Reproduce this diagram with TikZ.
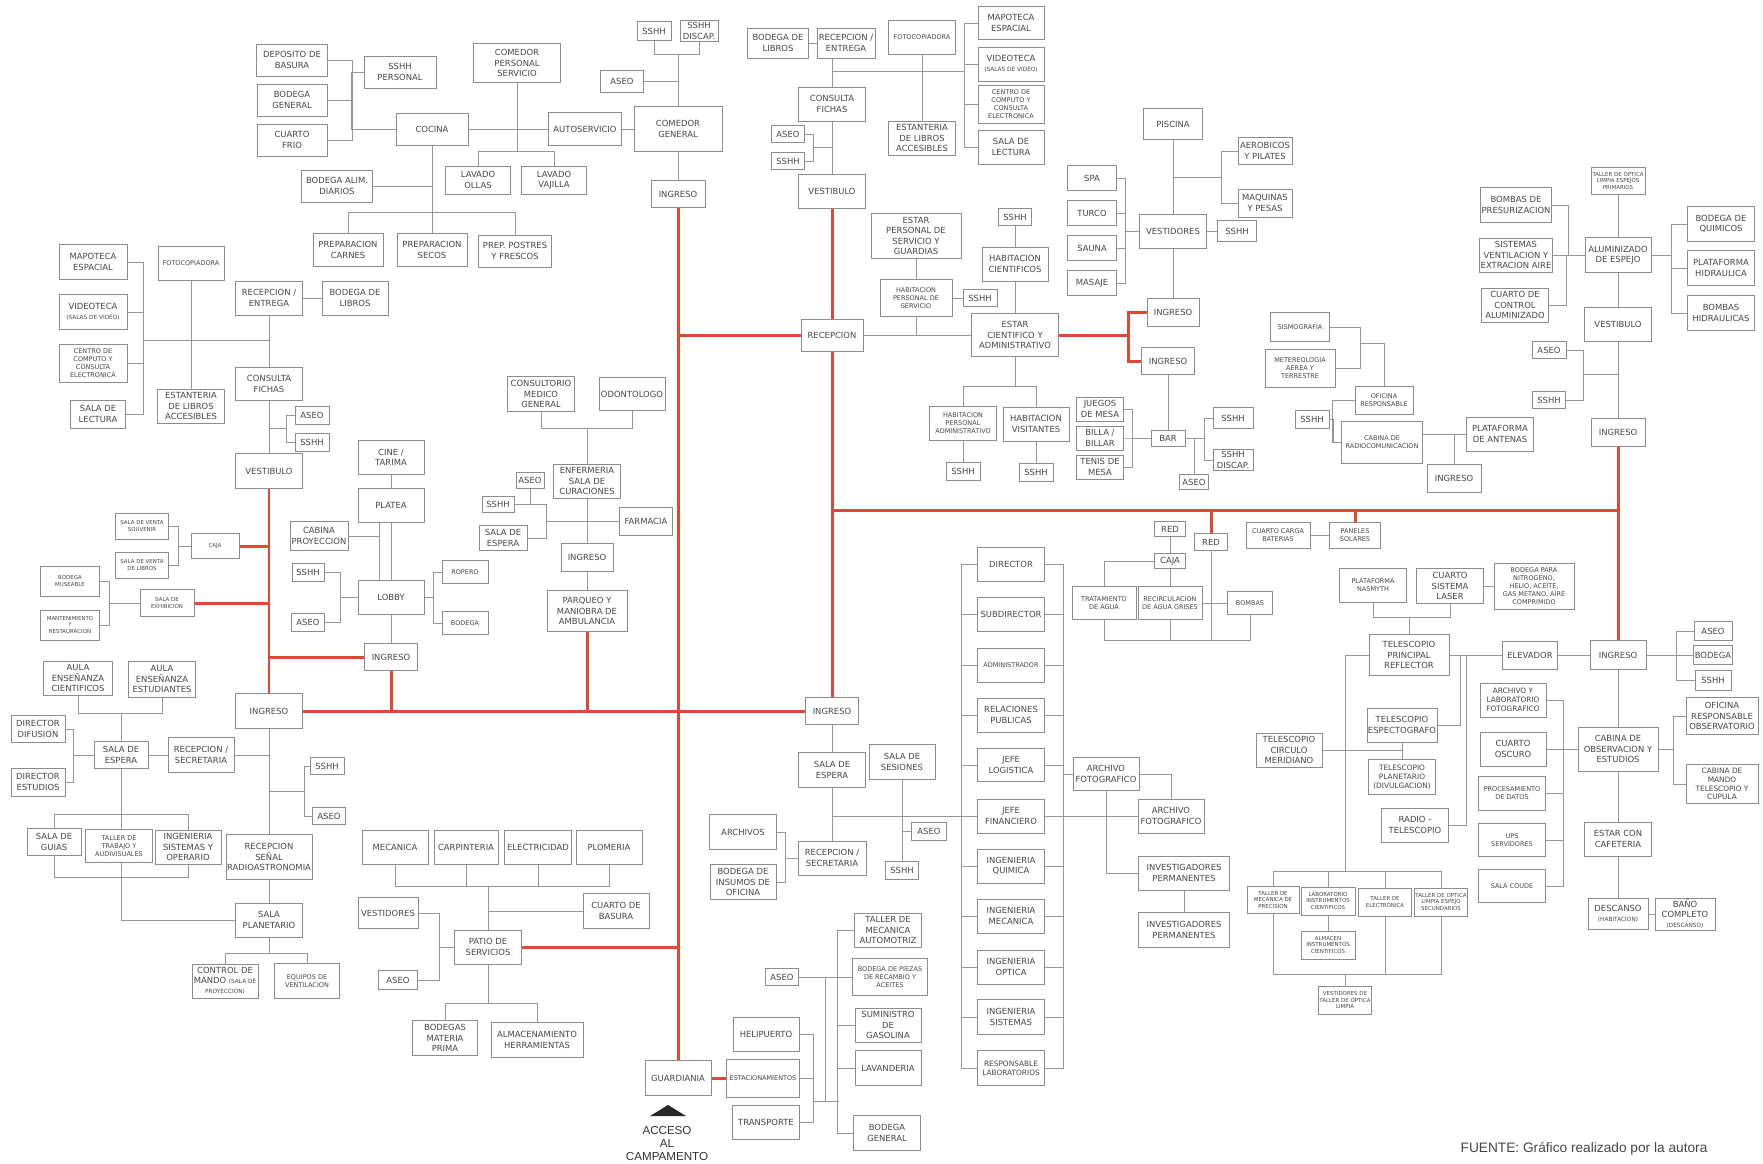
\documentclass[tikz,border=0pt]{standalone}
\usepackage{fontspec}
\setmainfont{DejaVu Sans}
\newfontfamily\arialfont{Liberation Sans}
\pgfdeclarelayer{background}
\pgfsetlayers{background,main}
\newlength{\pxu}
\setlength{\pxu}{0.02cm}
\definecolor{boxline}{RGB}{140,140,140}
\definecolor{linegray}{RGB}{150,150,150}
\definecolor{txt}{RGB}{70,70,70}
\definecolor{routered}{RGB}{222,72,52}
\newcommand{\mainsize}{\fontsize{4.8}{5.8}\selectfont}
\newcommand{\midsize}{\fontsize{4.2}{5}\selectfont}
\newcommand{\smallsize}{\fontsize{3.7}{4.5}\selectfont}
\newcommand{\tinysize}{\fontsize{3.1}{3.8}\selectfont}
\newcommand{\subtxt}[1]{{\fontsize{3.3}{4}\selectfont #1}}
\tikzstyle{room} = [
    rectangle,
    draw=boxline,
    line width=0.45pt,
    fill=white,
    inner sep=0.6pt,
    align=center,
    text=txt,
    font=\mainsize
]
\tikzstyle{roommid} = [room, font=\midsize]
\tikzstyle{roomsm} = [room, font=\smallsize]
\tikzstyle{roomtiny} = [room, font=\tinysize]
\tikzstyle{link} = [draw=linegray, line width=0.45pt]
\tikzstyle{route} = [draw=routered, line width=1.7pt]
\tikzset{wh/.style 2 args={minimum width=#1*\pxu, minimum height=#2*\pxu}}

\begin{document}
\begin{tikzpicture}[x=0.02cm, y=-0.02cm]
\useasboundingbox (0,0) rectangle (1763,1163);

\node (depbasura) [room, wh={71}{32}] at (292,60) {DEPOSITO DE\\BASURA};
\node (sshhpers) [room, wh={72}{32}] at (400,72) {SSHH\\PERSONAL};
\node (bodgen) [room, wh={70}{32}] at (292,100) {BODEGA\\GENERAL};
\node (frio) [room, wh={70}{32}] at (292,140) {CUARTO\\FRIO};
\node (cocina) [room, wh={72}{32}] at (432,129) {COCINA};
\node (bodalim) [room, wh={71}{32}] at (337,186) {BODEGA ALIM.\\DIARIOS};
\node (prepcarnes) [room, wh={70}{33}] at (348,250) {PREPARACION\\CARNES};
\node (prepsecos) [room, wh={70}{33}] at (432,250) {PREPARACION\\SECOS};
\node (prepostres) [room, wh={73}{32}] at (515,251) {PREP. POSTRES\\Y FRESCOS};
\node (compers) [room, wh={87}{39}] at (517,63) {COMEDOR\\PERSONAL\\SERVICIO};
\node (lavollas) [room, wh={65}{28}] at (478,180) {LAVADO\\OLLAS};
\node (lavvajilla) [room, wh={65}{28}] at (554,180) {LAVADO\\VAJILLA};
\node (autoserv) [room, wh={73}{33}] at (585,129) {AUTOSERVICIO};
\node (comgen) [room, wh={88}{45}] at (678,129) {COMEDOR\\GENERAL};
\node (aseocom) [room, wh={43}{22}] at (622,81) {ASEO};
\node (sshhcom) [room, wh={34}{19}] at (654,31) {SSHH};
\node (discom) [room, wh={38}{21}] at (699,31) {SSHH\\DISCAP.};
\node (ingcom) [room, wh={54}{27}] at (678,194) {INGRESO};

\node (mapoL) [room, wh={68}{35}] at (93,262) {MAPOTECA\\ESPACIAL};
\node (videoL) [room, wh={68}{35}] at (93,312) {VIDEOTECA\\\subtxt{(SALAS DE VIDEO)}};
\node (centroL) [roomsm, wh={68}{38}] at (93,363) {CENTRO DE\\COMPUTO Y\\CONSULTA\\ELECTRONICA};
\node (lecturaL) [room, wh={55}{28}] at (98,414) {SALA DE\\LECTURA};
\node (fotoL) [roomsm, wh={66}{34}] at (191,263) {FOTOCOPIADORA};
\node (estantL) [room, wh={67}{34}] at (191,406) {ESTANTERIA\\DE LIBROS\\ACCESIBLES};
\node (recentL) [room, wh={67}{34}] at (269,298) {RECEPCION /\\ENTREGA};
\node (bodlibL) [room, wh={66}{34}] at (355,298) {BODEGA DE\\LIBROS};
\node (consultaL) [room, wh={67}{33}] at (269,384) {CONSULTA\\FICHAS};
\node (aseoL) [room, wh={34}{18}] at (312,415) {ASEO};
\node (sshhL) [room, wh={34}{18}] at (312,442) {SSHH};
\node (vestL) [room, wh={67}{35}] at (269,471) {VESTIBULO};
\coordinate (libL) at (269,340);
\coordinate (sanL) at (269,428);

\node (cajaL) [roomtiny, wh={48}{25}] at (215,546) {CAJA};
\node (souvenir) [roomtiny, wh={53}{26}] at (142,526) {SALA DE VENTA\\SOUVENIR};
\node (ventalib) [roomtiny, wh={53}{26}] at (142,565) {SALA DE VENTA\\DE LIBROS};
\node (bodmus) [roomtiny, wh={59}{30}] at (70,581) {BODEGA\\MUSEABLE};
\node (manten) [roomtiny, wh={59}{30}] at (70,625) {MANTENIMIENTO\\Y\\RESTAURACION};
\node (exhib) [roomtiny, wh={54}{27}] at (167,603) {SALA DE\\EXHIBICION};

\node (cine) [room, wh={66}{34}] at (391,457) {CINE /\\TARIMA};
\node (platea) [room, wh={66}{34}] at (391,505) {PLATEA};
\node (cabproy) [room, wh={58}{29}] at (319,536) {CABINA\\PROYECCION};
\node (sshhcine) [room, wh={32}{18}] at (308,572) {SSHH};
\node (aseocine) [room, wh={33}{18}] at (308,622) {ASEO};
\node (lobby) [room, wh={66}{34}] at (391,597) {LOBBY};
\node (ingcine) [room, wh={53}{27}] at (391,657) {INGRESO};
\node (ropero) [roomsm, wh={46}{23}] at (465,572) {ROPERO};
\node (bodcine) [roomsm, wh={46}{23}] at (465,623) {BODEGA};

\node (ingL) [room, wh={67}{35}] at (269,711) {INGRESO};
\node (aulacien) [room, wh={69}{34}] at (78,678) {AULA\\ENSEÑANZA\\CIENTIFICOS};
\node (aulaest) [room, wh={67}{36}] at (162,679) {AULA\\ENSEÑANZA\\ESTUDIANTES};
\node (dirdif) [room, wh={54}{27}] at (38,729) {DIRECTOR\\DIFUSION};
\node (direst) [room, wh={54}{28}] at (38,782) {DIRECTOR\\ESTUDIOS};
\node (esperaL) [room, wh={54}{27}] at (121,755) {SALA DE\\ESPERA};
\node (recsecL) [room, wh={66}{35}] at (201,755) {RECEPCION /\\SECRETARIA};
\node (sshhof) [room, wh={34}{17}] at (327,766) {SSHH};
\node (aseoof) [room, wh={33}{17}] at (329,816) {ASEO};
\node (guias) [room, wh={54}{27}] at (54,842) {SALA DE\\GUIAS};
\node (tallerav) [roomsm, wh={67}{33}] at (119,846) {TALLER DE\\TRABAJO Y\\AUDIVISUALES};
\node (ingsist) [room, wh={66}{34}] at (188,847) {INGENIERIA\\SISTEMAS Y\\OPERARIO};
\node (senal) [room, wh={86}{45}] at (269,857) {RECEPCION\\SEÑAL\\RADIOASTRONOMIA};
\node (planet) [room, wh={67}{34}] at (269,920) {SALA\\PLANETARIO};
\node (ctrlmando) [room, wh={66}{34}] at (225,981) {CONTROL DE\\MANDO \subtxt{(SALA DE}\\\subtxt{PROYECCION)}};
\node (equipos) [roomsm, wh={65}{35}] at (307,981) {EQUIPOS DE\\VENTILACION};
\coordinate (ofL) at (269,791);

\node (consmed) [room, wh={67}{35}] at (541,394) {CONSULTORIO\\MEDICO\\GENERAL};
\node (odonto) [room, wh={66}{33}] at (632,394) {ODONTOLOGO};
\node (enferm) [room, wh={67}{34}] at (587,481) {ENFERMERIA\\SALA DE\\CURACIONES};
\node (aseomed) [room, wh={28}{16}] at (530,480) {ASEO};
\node (sshhmed) [room, wh={32}{16}] at (498,504) {SSHH};
\node (esperamed) [room, wh={48}{25}] at (503,538) {SALA DE\\ESPERA};
\node (farmacia) [room, wh={53}{28}] at (646,521) {FARMACIA};
\node (ingmed) [room, wh={52}{28}] at (587,557) {INGRESO};
\node (parqueo) [room, wh={80}{41}] at (587,611) {PARQUEO Y\\MANIOBRA DE\\AMBULANCIA};
\coordinate (medJ) at (546,521);

\node (mecanica) [room, wh={66}{34}] at (395,847) {MECANICA};
\node (carpint) [room, wh={64}{34}] at (466,847) {CARPINTERIA};
\node (electr) [room, wh={67}{34}] at (538,847) {ELECTRICIDAD};
\node (plomeria) [room, wh={66}{34}] at (609,847) {PLOMERIA};
\node (basura) [room, wh={66}{35}] at (616,911) {CUARTO DE\\BASURA};
\node (vestserv) [room, wh={60}{31}] at (388,913) {VESTIDORES};
\node (aseoserv) [room, wh={39}{19}] at (398,980) {ASEO};
\node (patio) [room, wh={67}{34}] at (488,947) {PATIO DE\\SERVICIOS};
\node (bodmat) [room, wh={65}{35}] at (445,1038) {BODEGAS\\MATERIA\\PRIMA};
\node (almacen) [room, wh={92}{35}] at (537,1040) {ALMACENAMIENTO\\HERRAMIENTAS};
\node (guard) [room, wh={66}{35}] at (678,1078) {GUARDIANIA};
\fill[black!85] (650,1116) -- (668,1105) -- (686,1116) -- cycle;
\node (acceso) [align=center, text=black!80, font=\arialfont\fontsize{6.6}{7.4}\selectfont] at (667,1143) {ACCESO\\AL\\CAMPAMENTO};

\node (bodlibR) [room, wh={61}{30}] at (778,43) {BODEGA DE\\LIBROS};
\node (recentR) [room, wh={58}{30}] at (846,43) {RECEPCION /\\ENTREGA};
\node (consultaR) [room, wh={67}{34}] at (832,104) {CONSULTA\\FICHAS};
\node (aseoR) [room, wh={33}{17}] at (788,134) {ASEO};
\node (sshhR) [room, wh={33}{17}] at (788,161) {SSHH};
\node (vestR) [room, wh={67}{34}] at (832,191) {VESTIBULO};
\node (fotoR) [roomsm, wh={67}{34}] at (922,37) {FOTOCOPIADORA};
\node (mapoR) [room, wh={66}{33}] at (1011,23) {MAPOTECA\\ESPACIAL};
\node (videoR) [room, wh={66}{34}] at (1011,64) {VIDEOTECA\\\subtxt{(SALAS DE VIDEO)}};
\node (centroR) [roomsm, wh={66}{38}] at (1011,104) {CENTRO DE\\COMPUTO Y\\CONSULTA\\ELECTRONICA};
\node (lecturaR) [room, wh={66}{34}] at (1011,147) {SALA DE\\LECTURA};
\node (estantR) [room, wh={67}{34}] at (922,138) {ESTANTERIA\\DE LIBROS\\ACCESIBLES};
\node (recep) [room, wh={62}{32}] at (832,335) {RECEPCION};
\coordinate (libR) at (832,71);
\coordinate (sanR) at (832,147);
\coordinate (hubE) at (832,510);

\node (estarpers) [room, wh={90}{45}] at (916,236) {ESTAR\\PERSONAL DE\\SERVICIO Y\\GUARDIAS};
\node (habpers) [roomsm, wh={72}{37}] at (916,298) {HABITACION\\PERSONAL DE\\SERVICIO};
\node (sshhhp) [room, wh={34}{17}] at (980,298) {SSHH};
\node (sshhhc) [room, wh={33}{17}] at (1015,217) {SSHH};
\node (habcien) [room, wh={66}{34}] at (1015,264) {HABITACION\\CIENTIFICOS};
\node (estarcien) [room, wh={87}{43}] at (1015,335) {ESTAR\\CIENTIFICO Y\\ADMINISTRATIVO};
\node (habadmin) [roomsm, wh={67}{34}] at (963,423) {HABITACION\\PERSONAL\\ADMINISTRATIVO};
\node (habvis) [room, wh={66}{34}] at (1036,424) {HABITACION\\VISITANTES};
\node (sshhha) [room, wh={34}{18}] at (963,471) {SSHH};
\node (sshhhv) [room, wh={34}{18}] at (1036,472) {SSHH};

\node (piscina) [room, wh={59}{31}] at (1173,124) {PISCINA};
\node (aerobicos) [room, wh={54}{27}] at (1265,151) {AEROBICOS\\Y PILATES};
\node (maquinas) [room, wh={54}{28}] at (1265,203) {MAQUINAS\\Y PESAS};
\node (spa) [room, wh={49}{25}] at (1092,178) {SPA};
\node (turco) [room, wh={49}{25}] at (1092,213) {TURCO};
\node (sauna) [room, wh={49}{25}] at (1092,248) {SAUNA};
\node (masaje) [room, wh={49}{25}] at (1092,283) {MASAJE};
\node (vestpool) [room, wh={67}{34}] at (1173,231) {VESTIDORES};
\node (sshhpool) [room, wh={39}{21}] at (1237,231) {SSHH};
\node (ingpool) [room, wh={52}{28}] at (1173,312) {INGRESO};
\node (ingbar) [room, wh={53}{27}] at (1168,361) {INGRESO};
\coordinate (poolJ) at (1173,177);

\node (juegos) [room, wh={47}{24}] at (1100,409) {JUEGOS\\DE MESA};
\node (billar) [room, wh={47}{24}] at (1100,438) {BILLA /\\BILLAR};
\node (tenis) [room, wh={47}{24}] at (1100,467) {TENIS DE\\MESA};
\node (bar) [room, wh={34}{16}] at (1168,438) {BAR};
\node (sshhbar) [room, wh={40}{21}] at (1233,418) {SSHH};
\node (disbar) [room, wh={40}{21}] at (1233,460) {SSHH\\DISCAP.};
\node (aseobar) [room, wh={29}{15}] at (1194,482) {ASEO};

\node (sismo) [roomsm, wh={59}{29}] at (1300,327) {SISMOGRAFIA};
\node (meteo) [roomsm, wh={70}{38}] at (1300,368) {METEREOLOGIA\\AEREA Y\\TERRESTRE};
\node (oficresp) [roomsm, wh={58}{28}] at (1384,400) {OFICINA\\RESPONSABLE};
\node (sshhrad) [room, wh={34}{18}] at (1312,419) {SSHH};
\node (cabrad) [roomsm, wh={81}{42}] at (1382,442) {CABINA DE\\RADIOCOMUNICACION};
\node (antenas) [room, wh={67}{34}] at (1500,434) {PLATAFORMA\\DE ANTENAS};
\node (ingrad) [room, wh={54}{28}] at (1454,478) {INGRESO};
\coordinate (sisJ) at (1360,343);

\node (tallerprim) [roomtiny, wh={54}{27}] at (1618,181) {TALLER DE OPTICA\\LIMPIA ESPEJOS\\PRIMARIOS};
\node (bombpres) [room, wh={67}{35}] at (1516,205) {BOMBAS DE\\PRESURIZACION};
\node (sistvent) [room, wh={68}{34}] at (1516,255) {SISTEMAS\\VENTILACION Y\\EXTRACION AIRE};
\node (ctrlalum) [room, wh={67}{34}] at (1515,305) {CUARTO DE\\CONTROL\\ALUMINIZADO};
\node (alum) [room, wh={66}{35}] at (1618,255) {ALUMINIZADO\\DE ESPEJO};
\node (vestalum) [room, wh={67}{34}] at (1618,324) {VESTIBULO};
\node (bodquim) [room, wh={67}{35}] at (1721,224) {BODEGA DE\\QUIMICOS};
\node (plathid) [room, wh={67}{35}] at (1721,268) {PLATAFORMA\\HIDRAULICA};
\node (bombhid) [room, wh={67}{35}] at (1721,313) {BOMBAS\\HIDRAULICAS};
\node (aseoalum) [room, wh={34}{17}] at (1549,350) {ASEO};
\node (sshhalum) [room, wh={33}{17}] at (1549,400) {SSHH};
\node (ingR1) [room, wh={54}{28}] at (1618,432) {INGRESO};
\coordinate (alumJ) at (1618,374);

\node (redL) [room, wh={31}{15}] at (1170,529) {RED};
\node (cajaR) [room, wh={31}{15}] at (1170,561) {CAJA};
\node (redR) [room, wh={33}{17}] at (1211,542) {RED};
\node (cargabat) [roomsm, wh={64}{26}] at (1278,535) {CUARTO CARGA\\BATERIAS};
\node (paneles) [roomsm, wh={51}{26}] at (1355,535) {PANELES\\SOLARES};
\node (tratam) [roomsm, wh={64}{33}] at (1104,603) {TRATAMIENTO\\DE AGUA};
\node (recirc) [roomsm, wh={64}{33}] at (1170,603) {RECIRCULACION\\DE AGUA GRISES};
\node (bombas) [roomsm, wh={45}{23}] at (1250,603) {BOMBAS};
\coordinate (aguaJ) at (1170,640);

\node (dir) [room, wh={67}{34}] at (1011,564) {DIRECTOR};
\node (subdir) [room, wh={67}{34}] at (1011,614) {SUBDIRECTOR};
\node (admin) [roomsm, wh={67}{34}] at (1011,665) {ADMINISTRADOR};
\node (relpub) [room, wh={67}{34}] at (1011,715) {RELACIONES\\PUBLICAS};
\node (jefelog) [room, wh={67}{33}] at (1011,765) {JEFE\\LOGISTICA};
\node (jefefin) [room, wh={67}{34}] at (1011,816) {JEFE\\FINANCIERO};
\node (ingquim) [room, wh={67}{34}] at (1011,866) {INGENIERIA\\QUIMICA};
\node (ingmec) [room, wh={67}{34}] at (1011,916) {INGENIERIA\\MECANICA};
\node (ingopt) [room, wh={67}{34}] at (1011,967) {INGENIERIA\\OPTICA};
\node (ingsis) [room, wh={67}{35}] at (1011,1017) {INGENIERIA\\SISTEMAS};
\node (resplab) [roommid, wh={67}{35}] at (1011,1068) {RESPONSABLE\\LABORATORIOS};
\node (archfot1) [room, wh={66}{33}] at (1106,774) {ARCHIVO\\FOTOGRAFICO};
\node (archfot2) [room, wh={66}{34}] at (1171,816) {ARCHIVO\\FOTOGRAFICO};
\node (invest1) [room, wh={91}{34}] at (1184,873) {INVESTIGADORES\\PERMANENTES};
\node (invest2) [room, wh={91}{35}] at (1184,930) {INVESTIGADORES\\PERMANENTES};

\node (ingC) [room, wh={53}{27}] at (832,711) {INGRESO};
\node (esperaC) [room, wh={67}{35}] at (832,770) {SALA DE\\ESPERA};
\node (sesiones) [room, wh={66}{35}] at (902,762) {SALA DE\\SESIONES};
\node (aseoses) [room, wh={35}{18}] at (929,831) {ASEO};
\node (sshhses) [room, wh={33}{18}] at (902,870) {SSHH};
\node (archivos) [room, wh={67}{35}] at (743,832) {ARCHIVOS};
\node (bodins) [room, wh={66}{35}] at (743,882) {BODEGA DE\\INSUMOS DE\\OFICINA};
\node (recsecC) [room, wh={68}{34}] at (832,858) {RECEPCION /\\SECRETARIA};

\node (aseosv) [room, wh={33}{17}] at (782,977) {ASEO};
\node (tallermec) [room, wh={67}{34}] at (888,930) {TALLER DE\\MECANICA\\AUTOMOTRIZ};
\node (bodpiezas) [roomsm, wh={75}{37}] at (890,977) {BODEGA DE PIEZAS\\DE RECAMBIO Y\\ACEITES};
\node (suministro) [room, wh={66}{34}] at (888,1025) {SUMINISTRO\\DE\\GASOLINA};
\node (lavand) [room, wh={66}{35}] at (888,1068) {LAVANDERIA};
\node (bodgen2) [room, wh={67}{35}] at (887,1133) {BODEGA\\GENERAL};
\node (helip) [room, wh={66}{34}] at (766,1034) {HELIPUERTO};
\node (estac) [roomsm, wh={73}{38}] at (763,1078) {ESTACIONAMIENTOS};
\node (transp) [room, wh={67}{34}] at (766,1122) {TRANSPORTE};
\coordinate (servB) at (838,1101);

\node (nasmyth) [roomsm, wh={67}{34}] at (1373,585) {PLATAFORMA\\NASMYTH};
\node (laser) [room, wh={67}{35}] at (1450,586) {CUARTO\\SISTEMA\\LASER};
\node (bodnitro) [roomsm, wh={80}{46}] at (1534,586) {BODEGA PARA\\NITROGENO,\\HELIO, ACEITE,\\GAS METANO, AIRE\\COMPRIMIDO};
\node (telprin) [room, wh={80}{41}] at (1409,655) {TELESCOPIO\\PRINCIPAL\\REFLECTOR};
\node (elevador) [room, wh={55}{28}] at (1530,655) {ELEVADOR};
\node (ingR2) [room, wh={56}{29}] at (1618,655) {INGRESO};
\node (aseoobs) [room, wh={38}{19}] at (1713,631) {ASEO};
\node (bodobs) [room, wh={37}{19}] at (1713,655) {BODEGA};
\node (sshhobs) [room, wh={36}{20}] at (1713,680) {SSHH};
\node (telesp) [room, wh={67}{34}] at (1402,725) {TELESCOPIO\\ESPECTOGRAFO};
\node (telmer) [room, wh={66}{34}] at (1289,750) {TELESCOPIO\\CIRCULO\\MERIDIANO};
\node (telplan) [roommid, wh={67}{35}] at (1402,777) {TELESCOPIO\\PLANETARIO\\(DIVULGACION)};
\node (radiotel) [room, wh={67}{34}] at (1415,825) {RADIO -\\TELESCOPIO};
\node (tmprec) [roomtiny, wh={52}{27}] at (1273,900) {TALLER DE\\MECANICA DE\\PRECISION};
\node (labinst) [roomtiny, wh={54}{28}] at (1328,901) {LABORATORIO\\INSTRUMENTOS\\CIENTIFICOS};
\node (telec) [roomtiny, wh={53}{28}] at (1385,902) {TALLER DE\\ELECTRONICA};
\node (topsec) [roomtiny, wh={53}{28}] at (1441,902) {TALLER DE OPTICA\\LIMPIA ESPEJO\\SECUNDARIOS};
\node (almacenR) [roomtiny, wh={54}{28}] at (1328,945) {ALMACEN\\INSTRUMENTOS\\CIENTIFICOS};
\node (vestopt) [roomtiny, wh={53}{28}] at (1345,1000) {VESTIDORES DE\\TALLER DE OPTICA\\LIMPIA};
\coordinate (labJ) at (1345,871);
\coordinate (labK) at (1345,974);
\node (archlab) [roommid, wh={66}{34}] at (1513,700) {ARCHIVO Y\\LABORATORIO\\FOTOGRAFICO};
\node (oscuro) [room, wh={66}{34}] at (1513,749) {CUARTO\\OSCURO};
\node (procdat) [roomsm, wh={67}{34}] at (1512,793) {PROCESAMIENTO\\DE DATOS};
\node (ups) [roomsm, wh={67}{33}] at (1512,840) {UPS\\SERVIDORES};
\node (coude) [roomsm, wh={67}{33}] at (1512,886) {SALA COUDE};
\node (cabobs) [room, wh={80}{44}] at (1618,749) {CABINA DE\\OBSERVACION Y\\ESTUDIOS};
\node (oficobs) [room, wh={72}{37}] at (1722,716) {OFICINA\\RESPONSABLE\\OBSERVATORIO};
\node (cabmando) [roommid, wh={72}{39}] at (1722,784) {CABINA DE\\MANDO\\TELESCOPIO Y\\CUPULA};
\node (estarcaf) [room, wh={67}{34}] at (1618,839) {ESTAR CON\\CAFETERIA};
\node (descanso) [room, wh={60}{31}] at (1618,914) {DESCANSO\\\subtxt{(HABITACION)}};
\node (bano) [room, wh={60}{32}] at (1685,914) {BAÑO\\COMPLETO\\\subtxt{(DESCANSO)}};

\node (fuente) [text=txt, font=\arialfont\fontsize{7.8}{9}\selectfont] at (1584,1149) {FUENTE: Gráfico realizado por la autora};

\begin{pgfonlayer}{background}
\fill[white] (0,0) rectangle (1763,1163);

\draw[link] (depbasura.east) -- ++(24,0) |- (cocina.west);
\draw[link] (sshhpers.west) -- ++(-12,0) |- (cocina.west);
\draw[link] (bodgen.east) -- ++(25,0) |- (cocina.west);
\draw[link] (frio.east) -- ++(25,0) |- (cocina.west);
\draw[link] (bodalim.east) -| (cocina.south);
\draw[link] (cocina.south) -- (prepsecos.north);
\draw[link] (cocina.south) -- ++(0,67) -| (prepcarnes.north);
\draw[link] (cocina.south) -- ++(0,67) -| (prepostres.north);
\draw[link] (cocina.east) -- (autoserv.west);
\draw[link] (autoserv.east) -- (comgen.west);
\draw[link] (compers.south) -- ++(0,68.5) -| (lavollas.north);
\draw[link] (compers.south) -- ++(0,68.5) -| (lavvajilla.north);
\draw[link] (sshhcom.south) -- ++(0,13.5) -| (comgen.north);
\draw[link] (discom.south) -- ++(0,12.5) -| (comgen.north);
\draw[link] (aseocom.east) -| (comgen.north);
\draw[link] (comgen.south) -- (ingcom.north);

\draw[link] (mapoL.east) -- ++(16,0) |- (libL);
\draw[link] (videoL.east) -- ++(16,0) |- (libL);
\draw[link] (centroL.east) -- ++(16,0) |- (libL);
\draw[link] (lecturaL.east) -- ++(17.5,0) |- (libL);
\draw[link] (fotoL.south) -- (estantL.north);
\draw[link] (recentL.east) -- (bodlibL.west);
\draw[link] (recentL.south) -- (consultaL.north);
\draw[link] (consultaL.south) -- (vestL.north);
\draw[link] (aseoL.west) -- ++(-8,0) |- (sanL);
\draw[link] (sshhL.west) -- ++(-8,0) |- (sanL);

\draw[link] (souvenir.east) -- ++(9.5,0) |- (cajaL.west);
\draw[link] (ventalib.east) -- ++(9.5,0) |- (cajaL.west);
\draw[link] (bodmus.east) -- ++(9.5,0) |- (exhib.west);
\draw[link] (manten.east) -- ++(9.5,0) |- (exhib.west);

\draw[link] (cine.south) -- (platea.north);
\draw[link] (platea.south) -- (lobby.north);
\draw[link] ([xshift=-0.24cm]platea.south) -- ([xshift=-0.24cm]lobby.north);
\draw[link] (cabproy.east) -| ([xshift=-0.24cm]lobby.north);
\draw[link] (sshhcine.east) -- ++(16,0) |- (lobby.west);
\draw[link] (aseocine.east) -- ++(15.5,0) |- (lobby.west);
\draw[link] (lobby.east) -- ++(9,0) |- (ropero.west);
\draw[link] (lobby.east) -- ++(9,0) |- (bodcine.west);
\draw[link] (lobby.south) -- (ingcine.north);

\draw[link] (aulacien.south) -- ++(0,18) -| (esperaL.north);
\draw[link] (aulaest.south) -- ++(0,16) -| (esperaL.north);
\draw[link] (dirdif.east) -- ++(8,0) |- (esperaL.west);
\draw[link] (direst.east) -- ++(8,0) |- (esperaL.west);
\draw[link] (esperaL.east) -- (recsecL.west);
\draw[link] (recsecL.east) -- (recsecL.east -| ingL.south);
\draw[link] (ingL.south) -- (senal.north);
\draw[link] (sshhof.west) -- ++(-5,0) |- (ofL);
\draw[link] (aseoof.west) -- ++(-7.5,0) |- (ofL);
\draw[link] (esperaL.south) |- (planet.west);
\draw[link] (guias.north) -- ++(0,-13.5) -| (ingsist.north);
\draw[link] (guias.south) -- ++(0,21.5) -| (ingsist.south);
\draw[link] (senal.south) -- (planet.north);
\draw[link] (planet.south) -- ++(0,16) -| (ctrlmando.north);
\draw[link] (planet.south) -- ++(0,16) -| (equipos.north);

\draw[link] (consmed.south) -- ++(0,16.5) -| (enferm.north);
\draw[link] (odonto.south) -- ++(0,17.5) -| (enferm.north);
\draw[link] (enferm.south) -- (ingmed.north);
\draw[link] (ingmed.south) -- (parqueo.north);
\draw[link] (farmacia.west) -- (medJ);
\draw[link] (esperamed.east) -| (medJ);
\draw[link] (sshhmed.east) -| (medJ);
\draw[link] (aseomed.south) |- (sshhmed.east);

\draw[link] (mecanica.south) -- ++(0,22) -| (patio.north);
\draw[link] (carpint.south) -- ++(0,22) -| (patio.north);
\draw[link] (electr.south) -- ++(0,22) -| (patio.north);
\draw[link] (plomeria.south) -- ++(0,22) -| (patio.north);
\draw[link] (basura.west) -| (patio.north);
\draw[link] (vestserv.east) -- ++(21,0) |- (patio.west);
\draw[link] (aseoserv.east) -- ++(21.5,0) |- (patio.west);
\draw[link] (patio.south) -- ++(0,39) -| (bodmat.north);
\draw[link] (patio.south) -- ++(0,39) -| (almacen.north);

\draw[link] (bodlibR.east) -- (recentR.west);
\draw[link] (consultaR.north) -- (consultaR.north |- recentR.south);
\draw[link] (fotoR.south) -- (estantR.north);
\draw[link] (mapoR.west) -- ++(-13,0) |- (libR);
\draw[link] (videoR.west) -- ++(-13,0) |- (libR);
\draw[link] (centroR.west) -- ++(-13,0) |- (libR);
\draw[link] (lecturaR.west) -- ++(-13,0) |- (libR);
\draw[link] (aseoR.east) -- ++(8.5,0) |- (sanR);
\draw[link] (sshhR.east) -- ++(8.5,0) |- (sanR);
\draw[link] (consultaR.south) -- (vestR.north);

\draw[link] (estarpers.south) -- (habpers.north);
\draw[link] (habpers.east) -- (sshhhp.west);
\draw[link] (habpers.south) -- (habpers.south |- recep.east);
\draw[link] (recep.east) -- (estarcien.west);
\draw[link] (sshhhc.south) -- (habcien.north);
\draw[link] (habcien.south) -- (estarcien.north);
\draw[link] (estarcien.south) -- ++(0,29.5) -| (habadmin.north);
\draw[link] (estarcien.south) -- ++(0,29.5) -| (habvis.north);
\draw[link] (habadmin.south) -- (sshhha.north);
\draw[link] (habvis.south) -- (sshhhv.north);

\draw[link] (piscina.south) -- (vestpool.north);
\draw[link] (aerobicos.west) -- ++(-16,0) |- (poolJ);
\draw[link] (maquinas.west) -- ++(-16,0) |- (poolJ);
\draw[link] (spa.east) -- ++(8.5,0) |- (vestpool.west);
\draw[link] (turco.east) -- ++(8.5,0) |- (vestpool.west);
\draw[link] (sauna.east) -- ++(8.5,0) |- (vestpool.west);
\draw[link] (masaje.east) -- ++(8.5,0) |- (vestpool.west);
\draw[link] (vestpool.east) -- (sshhpool.west);
\draw[link] (vestpool.south) -- (ingpool.north);
\draw[link] (ingbar.south) -- (bar.north);
\draw[link] (juegos.east) -- ++(8.5,0) |- (bar.west);
\draw[link] (billar.east) -- ++(8.5,0) |- (bar.west);
\draw[link] (tenis.east) -- ++(8.5,0) |- (bar.west);
\draw[link] (bar.east) -- ++(19,0) |- (sshhbar.west);
\draw[link] (bar.east) -- ++(19,0) |- (disbar.west);
\draw[link] (aseobar.north) -- (aseobar.north |- bar.east);

\draw[link] (sismo.east) -| (sisJ);
\draw[link] (meteo.east) -| (sisJ);
\draw[link] (sisJ) -| (oficresp.north);
\draw[link] (oficresp.west) -- ++(-22,0) |- (cabrad.west);
\draw[link] (sshhrad.east) -- ++(4,0) |- (cabrad.west);
\draw[link] (antenas.west) -- (antenas.west -| cabrad.east);
\draw[link] (ingrad.north) -- (ingrad.north |- antenas.west);

\draw[link] (tallerprim.south) -- (alum.north);
\draw[link] (bombpres.east) -- ++(16.5,0) |- (alum.west);
\draw[link] (sistvent.east) -- (alum.west);
\draw[link] (ctrlalum.east) -- ++(17.5,0) |- (alum.west);
\draw[link] (alum.east) -- ++(20,0) |- (bodquim.west);
\draw[link] (alum.east) -- ++(20,0) |- (plathid.west);
\draw[link] (alum.east) -- ++(20,0) |- (bombhid.west);
\draw[link] (alum.south) -- (vestalum.north);
\draw[link] (vestalum.south) -- (ingR1.north);
\draw[link] (aseoalum.east) -- ++(17,0) |- (alumJ);
\draw[link] (sshhalum.east) -- ++(17.5,0) |- (alumJ);

\draw[link] (cargabat.east) -- (paneles.west);
\draw[link] (redL.south) -- (cajaR.north);
\draw[link] (cajaR.south) -- (recirc.north);
\draw[link] (cajaR.west) -| (tratam.north);
\draw[link] (recirc.east) -- (bombas.west);
\draw[link] (tratam.south) -- ++(0,20.5) -| (bombas.south);
\draw[link] (recirc.south) -- (aguaJ);
\draw[link] (redR.south) |- (aguaJ);

\draw[link] (dir.west) -- ++(-15.5,0) |- (resplab.west);
\draw[link] (subdir.west) -- ++(-15.5,0) |- (resplab.west);
\draw[link] (admin.west) -- ++(-15.5,0) |- (resplab.west);
\draw[link] (relpub.west) -- ++(-15.5,0) |- (resplab.west);
\draw[link] (jefelog.west) -- ++(-15.5,0) |- (resplab.west);
\draw[link] (jefefin.west) -- ++(-15.5,0) |- (resplab.west);
\draw[link] (ingquim.west) -- ++(-15.5,0) |- (resplab.west);
\draw[link] (ingmec.west) -- ++(-15.5,0) |- (resplab.west);
\draw[link] (ingopt.west) -- ++(-15.5,0) |- (resplab.west);
\draw[link] (ingsis.west) -- ++(-15.5,0) |- (resplab.west);
\draw[link] (dir.east) -- ++(18.5,0) |- (resplab.east);
\draw[link] (subdir.east) -- ++(18.5,0) |- (resplab.east);
\draw[link] (admin.east) -- ++(18.5,0) |- (resplab.east);
\draw[link] (relpub.east) -- ++(18.5,0) |- (resplab.east);
\draw[link] (jefelog.east) -- ++(18.5,0) |- (resplab.east);
\draw[link] (jefefin.east) -- ++(18.5,0) |- (resplab.east);
\draw[link] (ingquim.east) -- ++(18.5,0) |- (resplab.east);
\draw[link] (ingmec.east) -- ++(18.5,0) |- (resplab.east);
\draw[link] (ingopt.east) -- ++(18.5,0) |- (resplab.east);
\draw[link] (ingsis.east) -- ++(18.5,0) |- (resplab.east);
\draw[link] (jefefin.west) -- (jefefin.west -| ingC.south);
\draw[link] (jefefin.east) -- (archfot2.west);
\draw[link] (jefelog.east) -- ++(18.5,0) |- (archfot1.west);
\draw[link] (archfot1.east) -| (archfot2.north);
\draw[link] (archfot1.south) |- (invest1.west);
\draw[link] (invest1.south) -- (invest2.north);

\draw[link] (ingC.south) -- (esperaC.north);
\draw[link] (esperaC.south) -- (recsecC.north);
\draw[link] (sesiones.south) -- (sshhses.north);
\draw[link] (aseoses.west) -- (aseoses.west -| sesiones.south);
\draw[link] (archivos.east) -- ++(8.5,0) |- (recsecC.west);
\draw[link] (bodins.east) -- ++(9,0) |- (recsecC.west);

\draw[link] (helip.east) -- ++(14,0) |- (servB);
\draw[link] (estac.east) -- ++(13.5,0) |- (servB);
\draw[link] (transp.east) -- ++(13.5,0) |- (servB);
\draw[link] (aseosv.east) -- (bodpiezas.west);
\draw[link] (aseosv.east) -- ++(26.5,0) |- (servB);
\draw[link] (tallermec.west) -- ++(-16.5,0) |- (servB);
\draw[link] (bodpiezas.west) -- ++(-15,0) |- (servB);
\draw[link] (suministro.west) -- ++(-17,0) |- (servB);
\draw[link] (lavand.west) -- ++(-17,0) |- (servB);
\draw[link] (bodgen2.west) -- ++(-15.5,0) |- (servB);

\draw[link] (nasmyth.south) -- ++(0,15) -| (telprin.north);
\draw[link] (laser.south) -- ++(0,13.5) -| (telprin.north);
\draw[link] (laser.east) -- (bodnitro.west);
\draw[link] (telprin.east) -- (elevador.west);
\draw[link] (elevador.east) -- (ingR2.west);
\draw[link] (ingR2.east) -- ++(30,0) |- (aseoobs.west);
\draw[link] (ingR2.east) -- (bodobs.west);
\draw[link] (ingR2.east) -- ++(30,0) |- (sshhobs.west);
\draw[link] (telesp.east) -- ++(22.5,0) |- (elevador.west);
\draw[link] (radiotel.east) -- ++(17.5,0) |- (elevador.west);
\draw[link] (telesp.south) -- (telplan.north);
\draw[link] (telmer.east) -- (telmer.east -| telesp.south);
\draw[link] (telprin.west) -| (labJ);
\draw[link] (tmprec.north) |- (labJ);
\draw[link] (labinst.north) |- (labJ);
\draw[link] (telec.north) |- (labJ);
\draw[link] (topsec.north) |- (labJ);
\draw[link] (tmprec.south) |- (labK);
\draw[link] (telec.south) |- (labK);
\draw[link] (topsec.south) |- (labK);
\draw[link] (labK) -- (vestopt.north);
\draw[link] (labinst.south) -- (almacenR.north);
\draw[link] (ingR2.south) -- (cabobs.north);
\draw[link] (oscuro.east) -- (cabobs.west);
\draw[link] (archlab.east) -- ++(17,0) |- (cabobs.west);
\draw[link] (procdat.east) -- ++(17.5,0) |- (cabobs.west);
\draw[link] (ups.east) -- ++(17.5,0) |- (cabobs.west);
\draw[link] (coude.east) -- ++(17.5,0) |- (cabobs.west);
\draw[link] (cabobs.east) -- ++(15,0) |- (oficobs.west);
\draw[link] (cabobs.east) -- ++(15,0) |- (cabmando.west);
\draw[link] (cabobs.south) -- (estarcaf.north);
\draw[link] (estarcaf.south) -- (descanso.north);
\draw[link] (descanso.east) -- (bano.west);

\draw[route] (ingcom.south) -- (guard.north);
\draw[route] (recep.west) -- (recep.west -| ingcom.south);
\draw[route] (patio.east) -- (patio.east -| guard.north);
\draw[route] (guard.east) -- (estac.west);
\draw[route] (ingL.east) -- (ingC.west);
\draw[route] (vestL.south) -- (ingL.north);
\draw[route] (cajaL.east) -- (cajaL.east -| vestL.south);
\draw[route] (exhib.east) -- (exhib.east -| vestL.south);
\draw[route] (ingcine.west) -- (ingcine.west -| vestL.south);
\draw[route] (ingcine.south) -- (ingcine.south |- ingL.east);
\draw[route] (parqueo.south) -- (parqueo.south |- ingL.east);
\draw[route] (vestR.south) -- (recep.north);
\draw[route] (recep.south) -- (ingC.north);
\draw[route] (estarcien.east) -- ++(70,0) |- (ingpool.west);
\draw[route] (estarcien.east) -- ++(70,0) |- (ingbar.west);
\draw[route] (hubE) -| (ingR1.south);
\draw[route] (ingR1.south) -- (ingR2.north);
\draw[route] (redR.north) -- (redR.north |- hubE);
\draw[route] (paneles.north) -- (paneles.north |- hubE);
\end{pgfonlayer}
\end{tikzpicture}
\end{document}
